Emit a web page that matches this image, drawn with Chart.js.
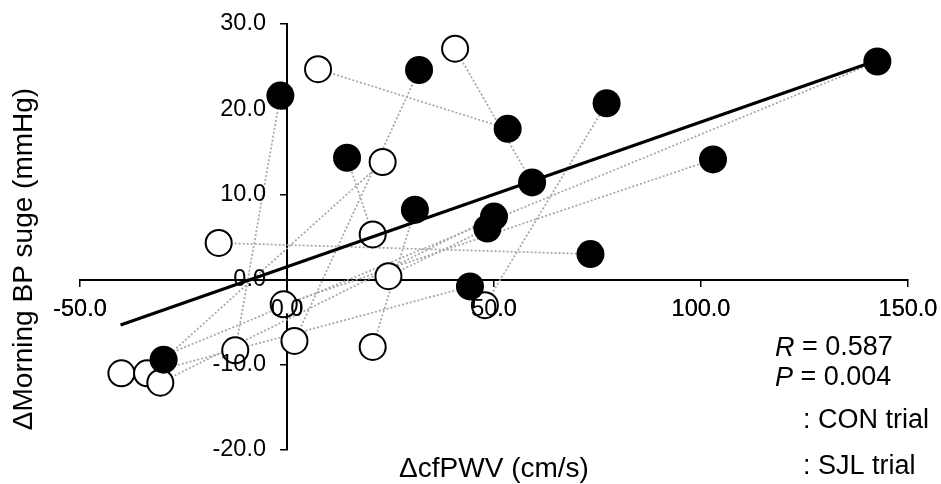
<!DOCTYPE html>
<html>
<head>
<meta charset="utf-8">
<script src="https://cdn.jsdelivr.net/npm/chart.js@4.4.0/dist/chart.umd.min.js"></script>
<style>
  html, body { margin: 0; padding: 0; background: #fff; }
  #wrap { width: 941px; height: 484px; position: relative; }
</style>
</head>
<body>
<div id="wrap"><canvas id="scatter_chart"></canvas></div>
<script>
// CON trial (open circles)
var conX = [7.5, 40.6, 23.1, 20.7, -16.5, 24.5, -0.8, 1.8, 20.7, -12.5, -40.0, -33.8, -30.6, 47.8];
var conY = [24.7, 27.1, 13.8, 5.3, 4.3, 0.4, -2.9, -7.2, -7.9, -8.3, -11.0, -11.0, -12.1, -3.0];

// SJL trial (filled circles)
var sjlX = [142.6, 53.3, 77.2, 59.2, 102.9, 50.0, 48.4, 73.3, 44.2, -1.6, 31.9, 14.5, 30.9, -29.8];
var sjlY = [25.6, 17.7, 20.7, 11.4, 14.1, 7.4, 6.0, 3.0, -0.8, 21.6, 24.6, 14.3, 8.2, -9.4];

// dotted links: [CON index, SJL index]
var links = [[0, 1], [1, 3], [2, 13], [3, 11], [4, 7], [5, 6], [6, 4], [7, 10],
             [8, 12], [9, 9], [10, 0], [11, 8], [12, 5], [13, 2]];

// regression line
var fitSlope = 0.170;
var fitIntercept = 1.5;
var fitRange = [-40.2, 142.6];

// axis ticks
var xTicks = [-50, 0, 50, 100, 150];
var yTicks = [-20, -10, 0, 10, 20, 30];

var xTitle = "\u0394cfPWV (cm/s)";
var yTitle = "\u0394Morning BP suge (mmHg)";
var statR = "0.587";
var statP = "0.004";
var legendLabels = [": CON trial", ": SJL trial"];

var FONT = "'Liberation Sans', Arial, sans-serif";
var TICK_FONT = { family: FONT, size: 23.5 };

function toPoints(xs, ys) {
    return xs.map(function (x, i) { return { x: x, y: ys[i] }; });
}

function buildDatasets() {
    var sets = [];
    sets.push({
        type: 'line',
        data: fitRange.map(function (x) { return { x: x, y: fitIntercept + fitSlope * x }; }),
        borderColor: '#000',
        borderWidth: 3.2,
        pointRadius: 0,
        order: 0
    });
    sets.push({
        data: toPoints(sjlX, sjlY),
        backgroundColor: '#000',
        borderColor: '#000',
        borderWidth: 0,
        pointRadius: 14,
        order: 1
    });
    sets.push({
        data: toPoints(conX, conY),
        backgroundColor: '#fff',
        borderColor: '#000',
        borderWidth: 2,
        pointRadius: 13,
        order: 2
    });
    links.forEach(function (l) {
        sets.push({
            type: 'line',
            data: [{ x: conX[l[0]], y: conY[l[0]] }, { x: sjlX[l[1]], y: sjlY[l[1]] }],
            borderColor: '#a6a6a6',
            borderWidth: 1.7,
            borderDash: [2, 2],
            pointRadius: 0,
            order: 3
        });
    });
    return sets;
}

// tick labels over the markers, axis titles, stats and legend text
var textPlugin = {
    id: 'texts',
    afterDatasetsDraw: function (chart) {
        var ctx = chart.ctx;
        var xs = chart.scales.x, ys = chart.scales.y;
        xs.drawLabels(chart.chartArea);

        ctx.save();
        ctx.fillStyle = '#000';
        ctx.textBaseline = 'middle';

        // y tick labels to the left of the crossing axis
        ctx.font = TICK_FONT.size + 'px ' + FONT;
        ctx.textAlign = 'right';
        var axisX = xs.getPixelForValue(0);
        ys.ticks.forEach(function (t) {
            ctx.fillText(Number(t.value).toFixed(1), axisX - 21, ys.getPixelForValue(t.value));
        });

        ctx.font = '28px ' + FONT;
        ctx.textAlign = 'center';
        ctx.fillText(xTitle, 494, 469);

        ctx.save();
        ctx.translate(24, 259);
        ctx.rotate(-Math.PI / 2);
        ctx.fillText(yTitle, 0, 0);
        ctx.restore();

        ctx.textAlign = 'left';
        var rows = [['R', statR, 348], ['P', statP, 378]];
        rows.forEach(function (r) {
            ctx.font = 'italic 27px ' + FONT;
            ctx.fillText(r[0], 775, r[2]);
            var w = ctx.measureText(r[0]).width;
            ctx.font = '27px ' + FONT;
            ctx.fillText(' = ' + r[1], 775 + w, r[2]);
        });
        ctx.font = '27px ' + FONT;
        ctx.fillText(legendLabels[0], 803, 421);
        ctx.fillText(legendLabels[1], 803, 467);
        ctx.restore();
    }
};

function axisOpts(min, max, list, pos, showLabels) {
    return {
        type: 'linear',
        min: min,
        max: max,
        position: pos,
        afterBuildTicks: function (scale) {
            scale.ticks = list.map(function (v) { return { value: v }; });
        },
        afterFit: function (scale) {
            // no extra room for overhanging end labels
            scale.paddingLeft = 0;
            scale.paddingRight = 0;
            scale.paddingTop = 0;
            scale.paddingBottom = 0;
        },
        ticks: {
            display: showLabels,
            color: '#000',
            font: TICK_FONT,
            padding: 10,
            autoSkip: false,
            maxRotation: 0,
            callback: function (v) { return Number(v).toFixed(1); }
        },
        grid: {
            drawOnChartArea: false,
            drawTicks: true,
            tickLength: 6,
            color: '#000',
            lineWidth: 1.5
        },
        border: { display: true, color: '#000', width: 2 }
    };
}

new Chart(document.getElementById('scatter_chart').getContext('2d'), {
    type: 'scatter',
    data: { datasets: buildDatasets() },
    options: {
        responsive: true,
        maintainAspectRatio: false,
        animation: false,
        layout: { padding: { left: 80, right: 33, top: 24, bottom: 34 } },
        plugins: {
            legend: { display: false },
            tooltip: { enabled: false }
        },
        scales: {
            x: axisOpts(-50, 150, xTicks, { y: 0 }, true),
            y: axisOpts(-20, 30, yTicks, { x: 0 }, false)
        }
    },
    plugins: [textPlugin]
});
</script>
</body>
</html>
